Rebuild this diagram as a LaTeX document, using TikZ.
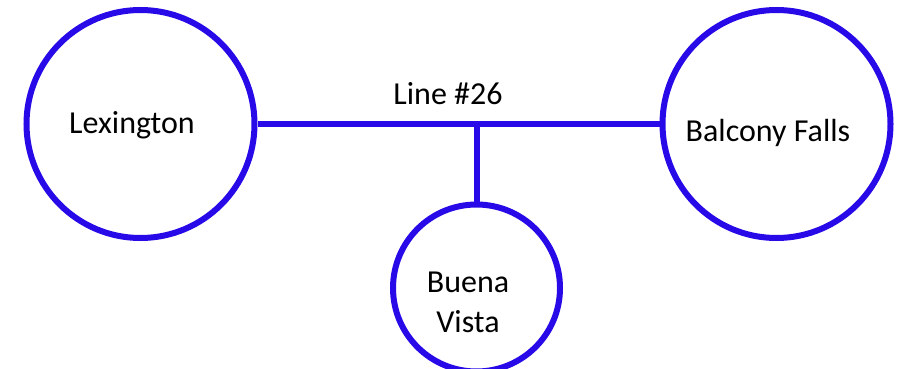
\documentclass[tikz,border=0pt]{standalone}
\usepackage{fontspec}
\setmainfont{Carlito}
\definecolor{lineblue}{RGB}{40,10,232}
\begin{document}
\begin{tikzpicture}[x=1pt,y=-1pt,
  station/.style={circle,draw=lineblue,line width=6pt,fill=white,inner sep=0pt,align=center,
    font=\fontsize{31}{40}\selectfont},
  track/.style={draw=lineblue,line width=6pt},
  lbl/.style={font=\fontsize{32}{40}\selectfont,inner sep=0pt}]
\useasboundingbox (0,0) rectangle (899,369);
\node[station,minimum size=228pt] (lex) at (140.5,124) {};
\node[station,minimum size=228pt] (bf) at (776.5,124) {};
\node[station,minimum size=167pt] (bv) at (476.5,288) {};
\node[lbl] (lexT) at (132,125) {Lexington};
\node[lbl] (bfT) at (768,133) {Balcony Falls};
\node[lbl,align=center] (bvT) at (468,302) {Buena\\Vista};
\coordinate (j) at (476.5,124);
\draw[track] (lex.east) -- (j) -- ([xshift=5pt]bf.west);
\draw[track] (j) -- (bv.north);
\node[lbl] (line) at (448,94) {Line \#26};
\end{tikzpicture}
\end{document}
